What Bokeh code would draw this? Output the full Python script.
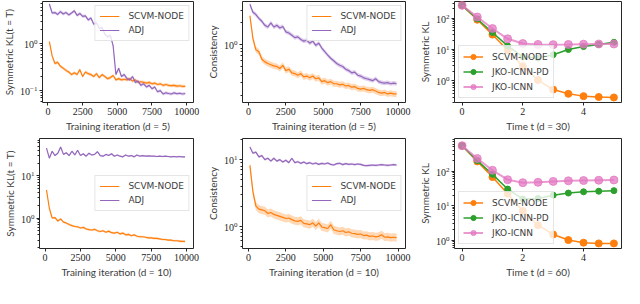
from bokeh.plotting import figure
from bokeh.layouts import column, row
from bokeh.models import FixedTicker, Range1d
from bokeh.embed import file_html
from bokeh.resources import INLINE

# ---------------- data ----------------
iters = list(range(100, 10000, 200))  # training iterations 100..9900

kl5_scvm = [1.10, 0.55, 0.38, 0.40, 0.33, 0.30, 0.27, 0.25, 0.22, 0.24,
            0.22, 0.28, 0.20, 0.25, 0.23, 0.22, 0.20, 0.23, 0.19, 0.22,
            0.20, 0.18, 0.19, 0.21, 0.17, 0.18, 0.17, 0.175, 0.17, 0.18,
            0.16, 0.17, 0.15, 0.155, 0.15, 0.145, 0.15, 0.14, 0.145, 0.135,
            0.14, 0.13, 0.135, 0.13, 0.128, 0.13, 0.125, 0.127, 0.123, 0.124]
kl5_adj = [7.0, 4.5, 4.6, 4.2, 4.8, 4.3, 4.6, 4.1, 4.5, 5.0,
           4.0, 4.4, 3.8, 3.9, 3.2, 3.5, 2.6, 2.8, 2.1, 2.2,
           1.6, 1.4, 1.5, 0.9, 0.22, 0.30, 0.20, 0.22, 0.18, 0.17,
           0.20, 0.15, 0.16, 0.13, 0.14, 0.12, 0.13, 0.11, 0.12, 0.095,
           0.10, 0.085, 0.09, 0.087, 0.085, 0.09, 0.086, 0.088, 0.085, 0.087]

cons5_scvm = [2.5, 1.22, 0.85, 0.80, 0.63, 0.58, 0.55, 0.53, 0.51, 0.50,
              0.47, 0.52, 0.44, 0.46, 0.41, 0.40, 0.38, 0.40, 0.36, 0.37,
              0.35, 0.37, 0.34, 0.35, 0.31, 0.32, 0.30, 0.31, 0.29, 0.29,
              0.28, 0.285, 0.27, 0.275, 0.26, 0.265, 0.25, 0.245, 0.25, 0.24,
              0.235, 0.24, 0.23, 0.22, 0.215, 0.22, 0.21, 0.215, 0.21, 0.21]
cons5_adj = [3.6, 2.8, 2.6, 2.3, 2.1, 1.85, 1.75, 2.0, 1.75, 1.85,
             1.7, 1.78, 1.5, 1.45, 1.35, 1.25, 1.28, 1.18, 1.12, 1.15,
             1.05, 1.12, 0.98, 1.05, 0.9, 0.8, 0.72, 0.65, 0.6, 0.55,
             0.52, 0.5, 0.46, 0.44, 0.41, 0.42, 0.38, 0.37, 0.35, 0.34,
             0.33, 0.32, 0.34, 0.31, 0.30, 0.295, 0.30, 0.29, 0.295, 0.29]

kl10_scvm = [4.6, 1.7, 1.0, 1.02, 0.85, 0.95, 0.8, 0.76, 0.7, 0.66,
             0.63, 0.62, 0.58, 0.6, 0.55, 0.53, 0.52, 0.54, 0.5, 0.48,
             0.5, 0.46, 0.49, 0.45, 0.44, 0.46, 0.42, 0.44, 0.4, 0.41,
             0.38, 0.4, 0.37, 0.36, 0.36, 0.35, 0.34, 0.34, 0.33, 0.33,
             0.32, 0.31, 0.31, 0.3, 0.3, 0.29, 0.29, 0.285, 0.28, 0.28]
kl10_adj = [45, 26, 38, 30, 34, 48, 32, 35, 30, 38,
            31, 40, 30, 33, 29, 34, 31, 32, 37, 30,
            29, 32, 30, 33, 29, 31, 29, 28, 31, 29,
            30, 28, 31, 29, 30, 29, 29.5, 29, 29, 28.5,
            29, 28.5, 29, 28.5, 28, 28.5, 28, 28.5, 28, 28]

cons10_scvm = [8.2, 3.3, 2.0, 1.8, 1.75, 1.7, 1.55, 1.6, 1.5, 1.45,
               1.4, 1.35, 1.3, 1.32, 1.25, 1.2, 1.18, 1.22, 1.1, 1.08,
               1.05, 1.12, 1.0, 1.12, 0.97, 0.95, 0.92, 1.05, 0.88, 0.85,
               0.83, 0.85, 0.8, 0.82, 0.78, 0.77, 0.75, 0.76, 0.72, 0.73,
               0.7, 0.71, 0.69, 0.7, 0.74, 0.68, 0.69, 0.67, 0.68, 0.67]
cons10_adj = [15.5, 12.5, 13, 11, 11.5, 10, 10.5, 9.5, 10.5, 9.5,
              10, 9.2, 9.8, 9, 10.5, 9, 9.3, 8.8, 9.2, 8.7,
              9, 8.6, 8.9, 8.5, 8.8, 8.6, 8.9, 8.5, 8.3, 8.7,
              8.8, 8.4, 8.7, 8.5, 8.6, 8.4, 8.6, 8.5, 8.2, 8.1,
              8.2, 8.3, 8.2, 8.3, 8.4, 8.3, 8.2, 8.3, 8.4, 8.3]

times = [0, 0.5, 1, 1.5, 2, 2.5, 3, 3.5, 4, 4.5, 5]
d30_scvm = [260, 90, 30, 9.5, 2.9, 1.05, 0.52, 0.38, 0.32, 0.30, 0.29]
d30_pd = [260, 95, 35, 13, 5.8, 5.3, 6.8, 10, 12.4, 14.5, 17]
d30_icnn = [260, 110, 47, 22, 15.5, 14.5, 14.3, 14.5, 14.8, 15, 15]

d60_scvm = [540, 190, 67, 22, 7, 2.7, 1.45, 1.0, 0.84, 0.8, 0.8]
d60_pd = [540, 200, 80, 30, 15.5, 16, 20, 23, 25, 26, 27]
d60_icnn = [540, 230, 105, 56, 46, 47, 50, 52, 53, 54, 55]

iter_ticks = [0, 2500, 5000, 7500, 10000]
time_ticks = [0, 2, 4]

ORANGE = "#ff7f0e"
PURPLE = "#9467bd"
GREEN = "#2ca02c"
PINK = "#e377c2"
INK = "#262626"
LABEL_INK = "#3c3c3c"


def minor_log(lo, hi):
    out = []
    for e in range(-3, 4):
        for m in range(2, 10):
            v = m * 10.0 ** e
            if lo <= v <= hi:
                out.append(v)
    return out


def make(w, h, bl, br, bt, bb, xr, yr, xlabel, ylabel, xticks, ymajor):
    p = figure(width=w, height=h, x_range=Range1d(*xr), y_range=Range1d(*yr),
               y_axis_type="log", output_backend="svg", toolbar_location=None,
               min_border_left=bl, min_border_right=br,
               min_border_top=bt, min_border_bottom=bb)
    p.background_fill_color = "white"
    p.border_fill_color = "white"
    p.xgrid.visible = False
    p.ygrid.visible = False
    p.outline_line_color = INK
    p.outline_line_width = 1
    p.outline_line_alpha = 1
    for ax in (p.xaxis[0], p.yaxis[0]):
        ax.axis_line_color = None
        ax.major_tick_in = 0
        ax.major_tick_out = 3
        ax.minor_tick_in = 0
        ax.minor_tick_out = 2
        ax.major_tick_line_color = INK
        ax.minor_tick_line_color = INK
        ax.major_label_text_font = "Liberation Serif"
        ax.major_label_text_font_size = "10px"
        ax.major_label_text_color = INK
        ax.axis_label_text_font = "Lato"
        ax.axis_label_text_font_size = "10px"
        ax.axis_label_text_font_style = "normal"
        ax.axis_label_text_color = LABEL_INK
        ax.major_label_standoff = 2
        ax.axis_label_standoff = 2
    p.xaxis[0].axis_label = xlabel
    p.yaxis[0].axis_label = ylabel
    p.xaxis[0].ticker = FixedTicker(ticks=xticks)
    p.yaxis[0].ticker = FixedTicker(ticks=ymajor, minor_ticks=minor_log(yr[0], yr[1]))
    return p


def banded(p, x, y, color, spread, label):
    lo = [v / (1 + spread) for v in y]
    hi = [v * (1 + spread) for v in y]
    p.varea(x=x, y1=lo, y2=hi, fill_color=color, fill_alpha=0.3)
    p.line(x, y, line_color=color, line_width=1.2, legend_label=label)


def style_legend(p, loc, lh):
    lg = p.legend[0]
    lg.location = loc
    lg.label_text_font = "DejaVu Sans"
    lg.label_text_font_size = "9px"
    lg.label_text_color = LABEL_INK
    lg.label_height = lh
    lg.glyph_height = lh
    lg.glyph_width = 20
    lg.label_standoff = 9
    lg.spacing = 2
    lg.padding = 4
    lg.margin = 4
    lg.border_line_color = "#cccccc"
    lg.border_line_width = 1
    lg.background_fill_alpha = 0.8


def markers(p, x, y, color, size, alpha, lw, label):
    p.line(x, y, line_color=color, line_width=lw, line_alpha=alpha, legend_label=label)
    p.scatter(x, y, marker="circle", size=size, fill_color=color, line_color=color,
              fill_alpha=alpha, line_alpha=alpha, legend_label=label)


it_range = (-395, 10495)
t_range = (-0.25, 5.25)

# ---- row 1 ----
p1 = make(203, 134, 28, 10, 1, 30, it_range, (0.056, 7.9),
          "Training iteration (d = 5)", "Symmetric KL(t = T)", iter_ticks, [0.1, 1])
banded(p1, iters, kl5_scvm, ORANGE, 0.08, "SCVM-NODE")
banded(p1, iters, kl5_adj, PURPLE, 0.08, "ADJ")
style_legend(p1, "top_right", 12)

p2 = make(212, 134, 33, 10, 1, 30, it_range, (0.16, 3.93),
          "Training iteration (d = 5)", "Consistency", iter_ticks, [1])
banded(p2, iters, cons5_scvm, ORANGE, 0.1, "SCVM-NODE")
banded(p2, iters, cons5_adj, PURPLE, 0.07, "ADJ")
style_legend(p2, "top_right", 12)

p3 = make(209, 134, 34, 3, 1, 30, t_range, (0.2, 345),
          "Time t (d = 30)", "Symmetric KL", time_ticks, [1, 10, 100])
markers(p3, times, d30_scvm, ORANGE, 7, 1.0, 1.5, "SCVM-NODE")
markers(p3, times, d30_pd, GREEN, 6, 1.0, 1.5, "JKO-ICNN-PD")
markers(p3, times, d30_icnn, PINK, 8, 0.75, 2.0, "JKO-ICNN")
style_legend(p3, "bottom_left", 13)

# ---- row 2 ----
p4 = make(203, 154, 28, 10, 4, 40, it_range, (0.19, 76),
          "Training iteration (d = 10)", "Symmetric KL(t = T)", iter_ticks, [1, 10])
banded(p4, iters, kl10_scvm, ORANGE, 0.06, "SCVM-NODE")
banded(p4, iters, kl10_adj, PURPLE, 0.04, "ADJ")
style_legend(p4, "right", 12)

p5 = make(212, 154, 33, 10, 4, 40, it_range, (0.46, 20.8),
          "Training iteration (d = 10)", "Consistency", iter_ticks, [1, 10])
banded(p5, iters, cons10_scvm, ORANGE, 0.15, "SCVM-NODE")
banded(p5, iters, cons10_adj, PURPLE, 0.04, "ADJ")
style_legend(p5, "right", 12)

p6 = make(209, 154, 34, 3, 4, 40, t_range, (0.57, 875),
          "Time t (d = 60)", "Symmetric KL", time_ticks, [1, 10, 100])
markers(p6, times, d60_scvm, ORANGE, 7, 1.0, 1.5, "SCVM-NODE")
markers(p6, times, d60_pd, GREEN, 6, 1.0, 1.5, "JKO-ICNN-PD")
markers(p6, times, d60_icnn, PINK, 8, 0.75, 2.0, "JKO-ICNN")
style_legend(p6, "bottom_left", 13)

layout = column(row(p1, p2, p3), row(p4, p5, p6))

open("out.html", "w").write(file_html(layout, INLINE))
